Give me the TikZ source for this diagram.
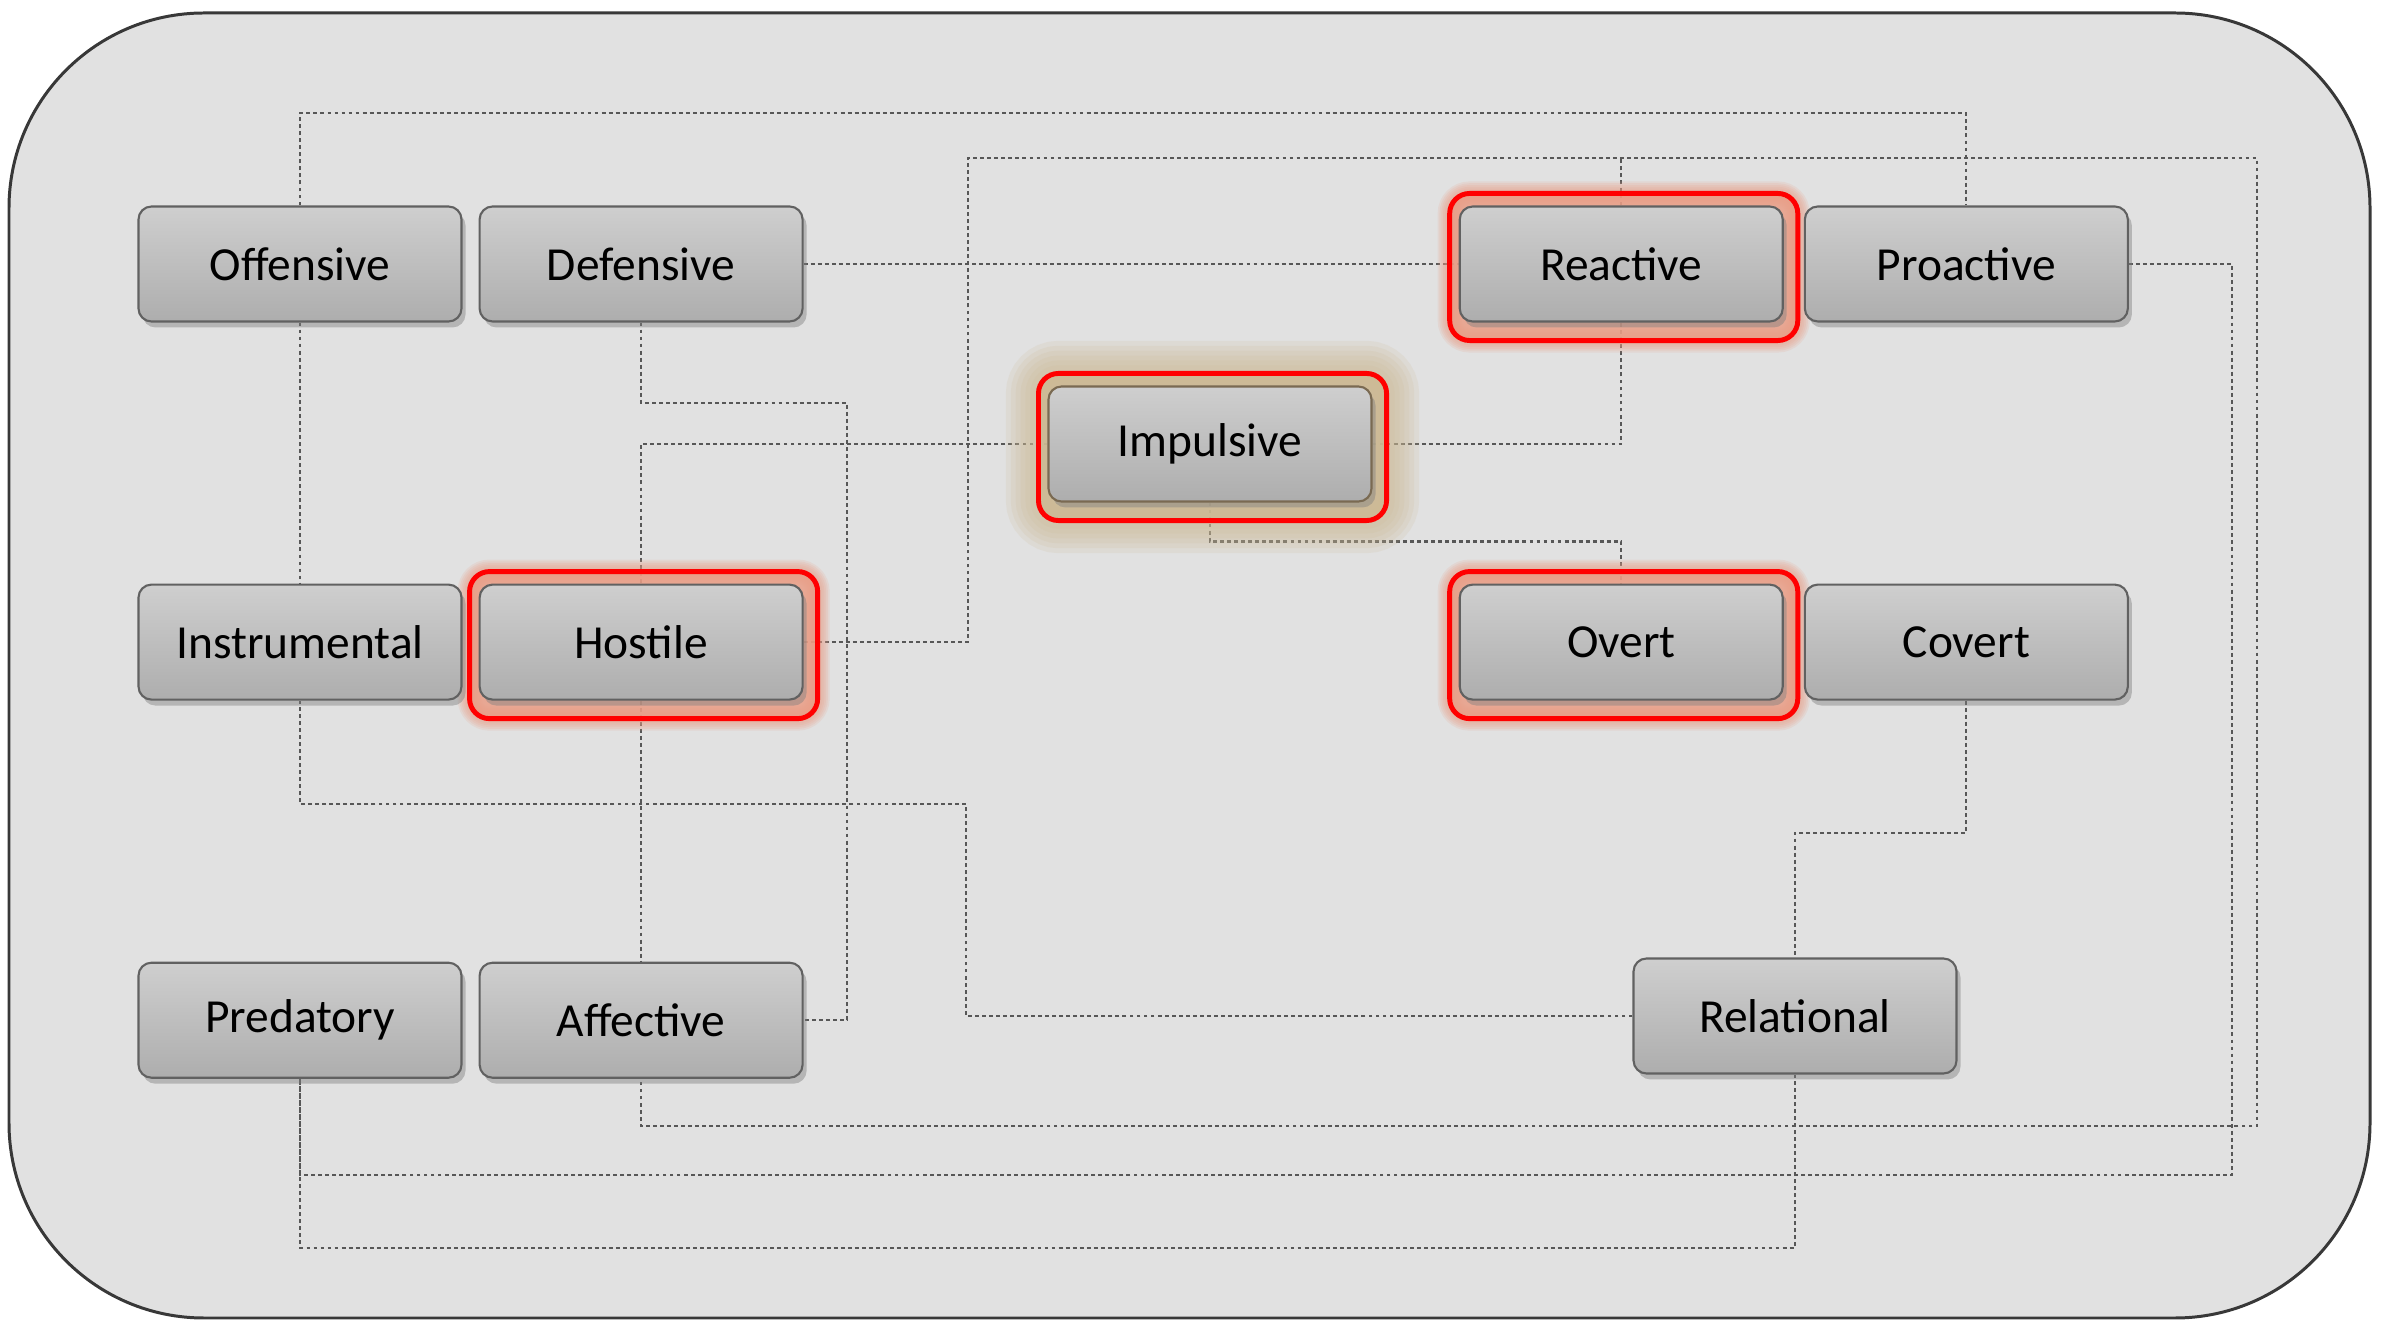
\documentclass[tikz,border=0pt]{standalone}
\usepackage{fontspec}
\setmainfont{Carlito}
\usetikzlibrary{positioning,shadows}
\pgfdeclarelayer{back}
\pgfdeclarelayer{links}
\pgfdeclarelayer{frames}
\pgfsetlayers{back,links,frames,main}
\definecolor{panel}{HTML}{E1E1E1}
\definecolor{glowred}{HTML}{EA9E86}
\definecolor{glowtan}{HTML}{CDBA94}
\definecolor{tanline}{HTML}{7A6A52}

\begin{document}
\begin{tikzpicture}[
  box/.style={draw=black!62, line width=0.6pt, rounded corners=0.13cm,
    top color=black!19, bottom color=black!32, minimum width=3.23cm, minimum height=1.15cm,
    font=\fontsize{13.5}{15}\selectfont,
    drop shadow={shadow xshift=0.04cm, shadow yshift=-0.06cm, opacity=0.45}},
  link/.style={draw=black!66, line width=0.6pt, dash pattern=on 1.1pt off 0.9pt},
  redframe/.style={draw=red, line width=1.4pt, rounded corners=0.2cm}]
\useasboundingbox (0,0) rectangle (23.99,13.22);
\begin{pgfonlayer}{back}
\draw[draw=black!78, line width=0.85pt, fill=panel, rounded corners=1.95cm] (0.09,0.04) rectangle (23.70,13.09);
\end{pgfonlayer}

\node [box] (offensive) at (3.00,10.58) {Offensive};
\node [box, right=0.16cm of offensive] (defensive) {Defensive};
\node [box, below=2.61cm of offensive] (instrumental) {Instrumental};
\node [box, below=2.61cm of defensive] (hostile) {Hostile};
\node [box, below=2.61cm of instrumental] (predatory) {Predatory};
\node [box, below=2.61cm of hostile] (affective) {Affective};
\node [box, right=6.55cm of defensive] (reactive) {Reactive};
\node [box, right=0.2cm of reactive] (proactive) {Proactive};
\node [box, below=2.61cm of reactive] (overt) {Overt};
\node [box, below=2.61cm of proactive] (covert) {Covert};
\node [box, draw=tanline] (impulsive) at (12.10,8.78) {Impulsive};
\node [box] (relational) at (17.95,3.06) {Relational};

\coordinate (rline) at (9.68,11.64);
\coordinate (low) at (17.95,0.74);

\begin{pgfonlayer}{links}
\draw[link] (offensive) -- (instrumental);
\draw[link] (offensive.north) -- ++(0,0.92) -| (proactive.north);
\draw[link] (defensive) -- (reactive);
\draw[link] (hostile) -- (affective);
\draw[link] (defensive.south) |- (8.47,9.19) |- (affective.east);
\draw[link] (hostile.east) -| (rline) -| (22.57,1.96) -| (affective.south);
\draw[link] (reactive.north) -- (reactive.north |- rline);
% around impulsive
\draw[link] (impulsive.west) -| (hostile.north);
\draw[link] (impulsive.east) -| (reactive.south);
\draw[link] (impulsive.south) -- ++(0,-0.39) -| (overt.north);
% lower routes
\draw[link] (proactive.east) -| (22.32,1.47) -| (predatory.south);
\draw[link] (predatory.south) |- (low) -- (relational.south);
\draw[link] (covert.south) -- ++(0,-1.32) -| (relational.north);
\draw[link] (relational.west) -| (9.66,5.18) -| (instrumental.south);
\end{pgfonlayer}

\begin{pgfonlayer}{frames}
\foreach \n/\c/\w in {hostile/glowred/0.24, reactive/glowred/0.24, overt/glowred/0.24, impulsive/glowtan/0.65} {
  \coordinate (fa) at ([shift={(-0.09,0.12)}]\n.north west);
  \coordinate (fb) at ([shift={(0.14,-0.18)}]\n.south east);
  \fill[\c, rounded corners=0.2cm, opacity=0.85] (fa) rectangle (fb);
  \foreach \s in {1,0.85,0.7,0.55,0.4,0.25}
    \draw[\c, rounded corners=0.2cm, opacity=0.16, line width=\s*\w cm] (fa) rectangle (fb);
  \draw[redframe] (fa) rectangle (fb);
}
\end{pgfonlayer}
\end{tikzpicture}
\end{document}
